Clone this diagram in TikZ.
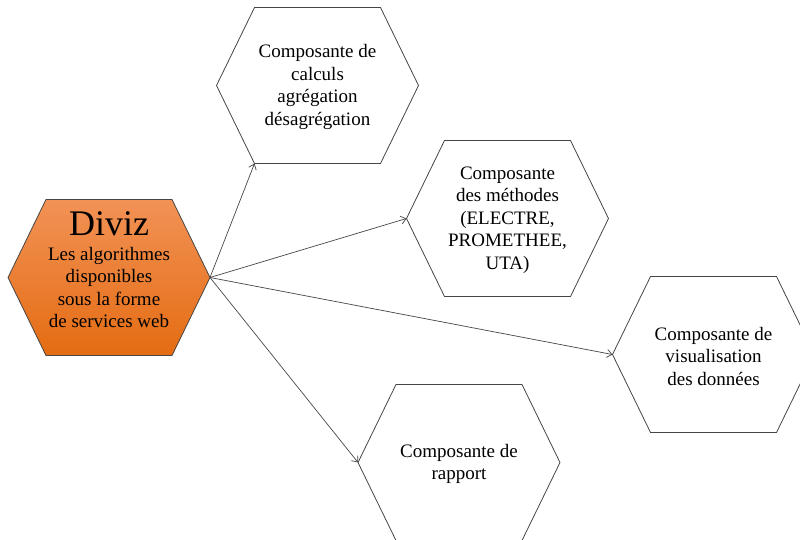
\documentclass[tikz,border=0pt]{standalone}
\usepackage{fontspec}
\setmainfont{Liberation Serif}
\usetikzlibrary{arrows.meta}
\definecolor{orTop}{RGB}{242,146,86}
\definecolor{orBot}{RGB}{228,108,18}
\definecolor{edge}{RGB}{70,70,70}
\tikzset{
  hexline/.style={draw=edge, line width=0.8pt},
  hextext/.style={align=center, font=\fontsize{19}{22.5}\selectfont, inner sep=0pt},
  conn/.style={draw=edge, line width=0.7pt, -{Straight Barb[length=5pt,width=8pt]}},
}
\newcommand\hexa[4][hexline]{%
  \draw[#1] (#3,#4) ++(-101,0) coordinate (#2-l) -- ++(38,-78) coordinate (#2-tl)
    -- ++(126,0) coordinate (#2-tr) -- ++(38,78) coordinate (#2-r)
    -- ++(-38,78) coordinate (#2-br) -- ++(-126,0) coordinate (#2-bl) -- cycle;}
\begin{document}
\begin{tikzpicture}[x=1pt,y=-1pt]
  \clip (0,0) rectangle (800,540);
  \fill[white] (0,0) rectangle (800,540);
  \hexa[hexline, top color=orTop, bottom color=orBot]{d}{109}{277.5}
  \hexa{h1}{317.5}{85.5}
  \hexa{h2}{507.5}{218.5}
  \hexa{h3}{713.5}{354.5}
  \hexa{h4}{459}{462.5}
  \node[hextext] (dt) at (109,270) {{\fontsize{36}{36}\selectfont Diviz}\\[2pt]Les algorithmes\\disponibles\\sous la forme\\de services web};
  \node[hextext] (t1) at (317.5,87) {Composante de\\calculs\\agrégation\\désagrégation};
  \node[hextext] (t2) at (507.5,220) {Composante\\des méthodes\\(ELECTRE,\\PROMETHEE,\\UTA)};
  \node[hextext] (t3) at (713.5,356) {Composante de\\visualisation\\des données};
  \node[hextext] (t4) at (459,464) {Composante de\\rapport};
  \draw[conn] (d-r) -- (h1-bl);
  \draw[conn] (d-r) -- (h2-l);
  \draw[conn] (d-r) -- (h3-l);
  \draw[conn] (d-r) -- (h4-l);
\end{tikzpicture}
\end{document}
